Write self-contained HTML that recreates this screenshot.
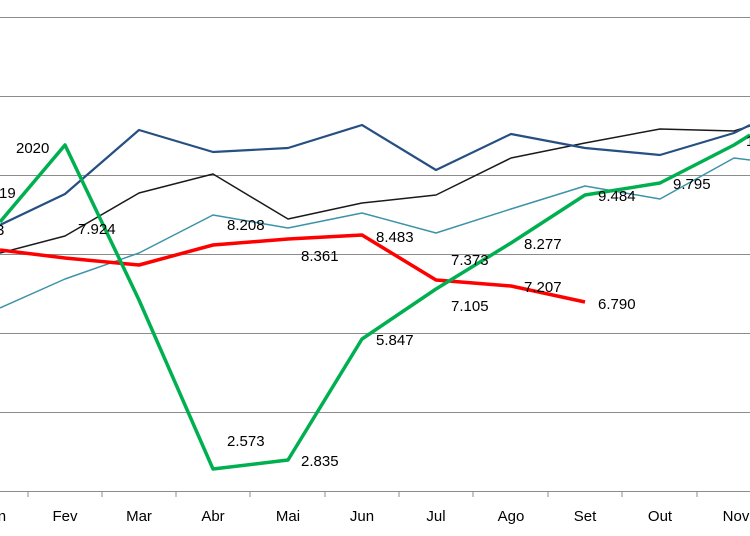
<!DOCTYPE html>
<html><head><meta charset="utf-8"><style>body{margin:0;background:#fff}svg{display:block}text{font-family:"Liberation Sans",sans-serif;font-size:15px;fill:#000}</style></head><body>
<svg width="750" height="536" viewBox="0 0 750 536">
<g stroke="#8c8c8c" stroke-width="1">
<line x1="0" y1="17.5" x2="750" y2="17.5"/><line x1="0" y1="96.5" x2="750" y2="96.5"/><line x1="0" y1="175.5" x2="750" y2="175.5"/><line x1="0" y1="254.5" x2="750" y2="254.5"/><line x1="0" y1="333.5" x2="750" y2="333.5"/><line x1="0" y1="412.5" x2="750" y2="412.5"/><line x1="0" y1="491.5" x2="750" y2="491.5"/>
<line x1="28" y1="491" x2="28" y2="497"/><line x1="102" y1="491" x2="102" y2="497"/><line x1="176" y1="491" x2="176" y2="497"/><line x1="250" y1="491" x2="250" y2="497"/><line x1="325" y1="491" x2="325" y2="497"/><line x1="399" y1="491" x2="399" y2="497"/><line x1="473" y1="491" x2="473" y2="497"/><line x1="548" y1="491" x2="548" y2="497"/><line x1="622" y1="491" x2="622" y2="497"/><line x1="697" y1="491" x2="697" y2="497"/>
</g>
<g fill="none" stroke-linejoin="round">
<polyline stroke="#3c93a8" stroke-width="1.5" points="0,308 65,279 139,253 213,215 288,228 362,213 436,233 511,209 585,186 660,199 734,158 750,160"/>
<polyline stroke="#1a1a1a" stroke-width="1.5" points="0,253 65,236 139,193 213,174 288,219 362,203 436,195 511,158 585,143 660,129 734,131 750,126"/>
<polyline stroke="#264f82" stroke-width="2.2" points="0,225 65,194 139,130 213,152 288,148 362,125 436,170 511,134 585,148 660,155 734,133 750,125"/>
<polyline stroke="#ff0000" stroke-width="3.5" points="0,250 65,258 139,265 213,245 288,239 362,235 436,280 511,286 585,302"/>
<polyline stroke="#00b050" stroke-width="3.5" points="0,222 65,145 139,300 213,469 288,460 362,339 436,289 511,243 585,195 660,183 734,145 750,135"/>
</g>
<text x="16" y="153">2020</text><text x="-1" y="198">19</text><text x="-4" y="235">3</text>
<text x="78" y="234">7.924</text><text x="227" y="230">8.208</text><text x="301" y="261">8.361</text><text x="376" y="242">8.483</text>
<text x="451" y="265">7.373</text><text x="451" y="311">7.105</text><text x="524" y="249">8.277</text><text x="524" y="292">7.207</text>
<text x="598" y="309">6.790</text><text x="598" y="201">9.484</text><text x="673" y="189">9.795</text>
<text x="227" y="446">2.573</text><text x="301" y="466">2.835</text><text x="376" y="345">5.847</text>
<text x="746" y="146">1</text>
<g text-anchor="middle"><text x="-6" y="521">Jan</text><text x="65" y="521">Fev</text><text x="139" y="521">Mar</text><text x="213" y="521">Abr</text><text x="288" y="521">Mai</text><text x="362" y="521">Jun</text><text x="436" y="521">Jul</text><text x="511" y="521">Ago</text><text x="585" y="521">Set</text><text x="660" y="521">Out</text><text x="736" y="521">Nov</text></g>
</svg>
</body></html>
